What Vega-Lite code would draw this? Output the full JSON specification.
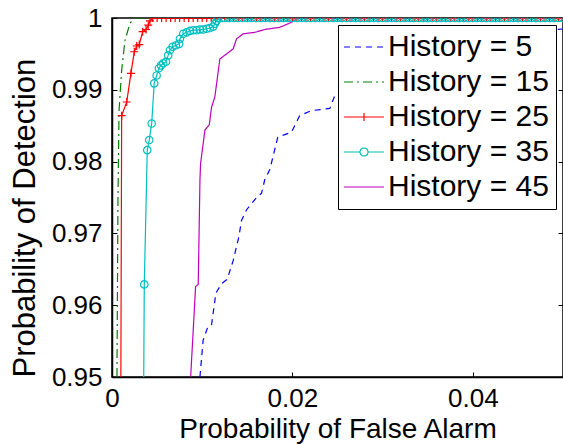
{
  "$schema": "https://vega.github.io/schema/vega-lite/v6.json",
  "width": 451,
  "height": 359,
  "autosize": {"type": "none"},
  "padding": {"left": 112, "top": 18, "right": 0, "bottom": 67},
  "background": "white",
  "config": {
    "font": "Liberation Sans",
    "view": {"stroke": "black", "strokeWidth": 1.5},
    "axis": {
      "domainColor": "black", "domainWidth": 1.5, "tickColor": "black", "tickWidth": 1,
      "labelColor": "black", "titleColor": "black", "grid": false,
      "labelFont": "Liberation Sans", "titleFont": "Liberation Sans", "titleFontWeight": "normal"
    }
  },
  "datasets": {
    "roc": [
      {"h":5,"x":0.00975,"y":0.95},{"h":5,"x":0.0101,"y":0.9551},{"h":5,"x":0.01063,"y":0.957},{"h":5,"x":0.01104,"y":0.9573},{"h":5,"x":0.01152,"y":0.9617},{"h":5,"x":0.01215,"y":0.963},{"h":5,"x":0.01277,"y":0.9636},{"h":5,"x":0.01343,"y":0.9662},{"h":5,"x":0.01406,"y":0.9695},{"h":5,"x":0.01436,"y":0.9718},{"h":5,"x":0.01492,"y":0.9733},{"h":5,"x":0.01603,"y":0.975},{"h":5,"x":0.01658,"y":0.9756},{"h":5,"x":0.01694,"y":0.9775},{"h":5,"x":0.0175,"y":0.9789},{"h":5,"x":0.01838,"y":0.9834},{"h":5,"x":0.0199,"y":0.9841},{"h":5,"x":0.0208,"y":0.9864},{"h":5,"x":0.0221,"y":0.9871},{"h":5,"x":0.02415,"y":0.9874},{"h":5,"x":0.0247,"y":0.9892},{"h":5,"x":0.027,"y":0.9905},{"h":5,"x":0.03,"y":0.9925},{"h":5,"x":0.034,"y":0.9945},{"h":5,"x":0.04,"y":0.997},{"h":5,"x":0.046,"y":0.9982},{"h":5,"x":0.0505,"y":0.9985},
      {"h":15,"x":0.00055,"y":0.95},{"h":15,"x":0.00066,"y":0.9746},{"h":15,"x":0.00078,"y":0.9871},{"h":15,"x":0.00107,"y":0.9927},{"h":15,"x":0.00144,"y":0.9969},{"h":15,"x":0.002,"y":0.9993},{"h":15,"x":0.0026,"y":1},{"h":15,"x":0.0505,"y":1},
      {"h":25,"x":0.00096,"y":0.94},{"h":25,"x":0.00107,"y":0.9864},{"h":25,"x":0.00163,"y":0.9883},{"h":25,"x":0.0021,"y":0.9923},{"h":25,"x":0.00247,"y":0.9953},{"h":25,"x":0.00274,"y":0.9961},{"h":25,"x":0.00302,"y":0.9963},{"h":25,"x":0.0034,"y":0.9981},{"h":25,"x":0.00377,"y":0.9984},{"h":25,"x":0.00402,"y":0.999},{"h":25,"x":0.00421,"y":0.9996},{"h":25,"x":0.00451,"y":1},
      {"h":25,"x":0.005,"y":1},{"h":25,"x":0.0055,"y":1},{"h":25,"x":0.006,"y":1},{"h":25,"x":0.0065,"y":1},{"h":25,"x":0.007,"y":1},{"h":25,"x":0.0075,"y":1},{"h":25,"x":0.008,"y":1},{"h":25,"x":0.0085,"y":1},{"h":25,"x":0.009,"y":1},{"h":25,"x":0.0095,"y":1},{"h":25,"x":0.01,"y":1},{"h":25,"x":0.0105,"y":1},{"h":25,"x":0.011,"y":1},{"h":25,"x":0.0115,"y":1},{"h":25,"x":0.012,"y":1},{"h":25,"x":0.0125,"y":1},{"h":25,"x":0.013,"y":1},{"h":25,"x":0.0135,"y":1},{"h":25,"x":0.014,"y":1},{"h":25,"x":0.0145,"y":1},{"h":25,"x":0.015,"y":1},{"h":25,"x":0.0155,"y":1},{"h":25,"x":0.016,"y":1},{"h":25,"x":0.0165,"y":1},{"h":25,"x":0.017,"y":1},{"h":25,"x":0.0175,"y":1},{"h":25,"x":0.018,"y":1},{"h":25,"x":0.0185,"y":1},{"h":25,"x":0.019,"y":1},{"h":25,"x":0.0195,"y":1},{"h":25,"x":0.02,"y":1},{"h":25,"x":0.0205,"y":1},{"h":25,"x":0.021,"y":1},{"h":25,"x":0.0215,"y":1},{"h":25,"x":0.022,"y":1},{"h":25,"x":0.0225,"y":1},{"h":25,"x":0.023,"y":1},{"h":25,"x":0.0235,"y":1},{"h":25,"x":0.024,"y":1},{"h":25,"x":0.0245,"y":1},{"h":25,"x":0.025,"y":1},{"h":25,"x":0.0255,"y":1},{"h":25,"x":0.026,"y":1},{"h":25,"x":0.0265,"y":1},{"h":25,"x":0.027,"y":1},{"h":25,"x":0.0275,"y":1},{"h":25,"x":0.028,"y":1},{"h":25,"x":0.0285,"y":1},{"h":25,"x":0.029,"y":1},{"h":25,"x":0.0295,"y":1},{"h":25,"x":0.03,"y":1},{"h":25,"x":0.0305,"y":1},{"h":25,"x":0.031,"y":1},{"h":25,"x":0.0315,"y":1},{"h":25,"x":0.032,"y":1},{"h":25,"x":0.0325,"y":1},{"h":25,"x":0.033,"y":1},{"h":25,"x":0.0335,"y":1},{"h":25,"x":0.034,"y":1},{"h":25,"x":0.0345,"y":1},{"h":25,"x":0.035,"y":1},{"h":25,"x":0.0355,"y":1},{"h":25,"x":0.036,"y":1},{"h":25,"x":0.0365,"y":1},{"h":25,"x":0.037,"y":1},{"h":25,"x":0.0375,"y":1},{"h":25,"x":0.038,"y":1},{"h":25,"x":0.0385,"y":1},{"h":25,"x":0.039,"y":1},{"h":25,"x":0.0395,"y":1},{"h":25,"x":0.04,"y":1},{"h":25,"x":0.0405,"y":1},{"h":25,"x":0.041,"y":1},{"h":25,"x":0.0415,"y":1},{"h":25,"x":0.042,"y":1},{"h":25,"x":0.0425,"y":1},{"h":25,"x":0.043,"y":1},{"h":25,"x":0.0435,"y":1},{"h":25,"x":0.044,"y":1},{"h":25,"x":0.0445,"y":1},{"h":25,"x":0.045,"y":1},{"h":25,"x":0.0455,"y":1},{"h":25,"x":0.046,"y":1},{"h":25,"x":0.0465,"y":1},{"h":25,"x":0.047,"y":1},{"h":25,"x":0.0475,"y":1},{"h":25,"x":0.048,"y":1},{"h":25,"x":0.0485,"y":1},{"h":25,"x":0.049,"y":1},{"h":25,"x":0.0495,"y":1},{"h":25,"x":0.05,"y":1},
      {"h":35,"x":0.00347,"y":0.94},{"h":35,"x":0.00358,"y":0.9629},{"h":35,"x":0.00391,"y":0.9816},{"h":35,"x":0.00413,"y":0.983},{"h":35,"x":0.0044,"y":0.9853},{"h":35,"x":0.00468,"y":0.9909},{"h":35,"x":0.00495,"y":0.992},{"h":35,"x":0.0052,"y":0.993},{"h":35,"x":0.00543,"y":0.9934},{"h":35,"x":0.00568,"y":0.9937},{"h":35,"x":0.00598,"y":0.9939},{"h":35,"x":0.00623,"y":0.9948},{"h":35,"x":0.00642,"y":0.9955},{"h":35,"x":0.00672,"y":0.996},{"h":35,"x":0.00709,"y":0.9962},{"h":35,"x":0.00745,"y":0.9964},{"h":35,"x":0.00753,"y":0.9971},{"h":35,"x":0.0079,"y":0.9978},{"h":35,"x":0.00827,"y":0.998},{"h":35,"x":0.00864,"y":0.9982},{"h":35,"x":0.009,"y":0.9983},{"h":35,"x":0.00938,"y":0.9983},{"h":35,"x":0.00975,"y":0.9984},{"h":35,"x":0.0101,"y":0.9984},{"h":35,"x":0.01049,"y":0.9985},{"h":35,"x":0.01085,"y":0.9986},{"h":35,"x":0.01122,"y":0.9988},{"h":35,"x":0.0114,"y":0.9992},{"h":35,"x":0.0116,"y":0.9996},{"h":35,"x":0.01177,"y":1},
      {"h":35,"x":0.0122,"y":1},{"h":35,"x":0.0125,"y":1},{"h":35,"x":0.013,"y":1},{"h":35,"x":0.0135,"y":1},{"h":35,"x":0.014,"y":1},{"h":35,"x":0.0145,"y":1},{"h":35,"x":0.015,"y":1},{"h":35,"x":0.0155,"y":1},{"h":35,"x":0.016,"y":1},{"h":35,"x":0.0165,"y":1},{"h":35,"x":0.017,"y":1},{"h":35,"x":0.0175,"y":1},{"h":35,"x":0.018,"y":1},{"h":35,"x":0.0185,"y":1},{"h":35,"x":0.019,"y":1},{"h":35,"x":0.0195,"y":1},{"h":35,"x":0.02,"y":1},{"h":35,"x":0.0205,"y":1},{"h":35,"x":0.021,"y":1},{"h":35,"x":0.0215,"y":1},{"h":35,"x":0.022,"y":1},{"h":35,"x":0.0225,"y":1},{"h":35,"x":0.023,"y":1},{"h":35,"x":0.0235,"y":1},{"h":35,"x":0.024,"y":1},{"h":35,"x":0.0245,"y":1},{"h":35,"x":0.025,"y":1},{"h":35,"x":0.0255,"y":1},{"h":35,"x":0.026,"y":1},{"h":35,"x":0.0265,"y":1},{"h":35,"x":0.027,"y":1},{"h":35,"x":0.0275,"y":1},{"h":35,"x":0.028,"y":1},{"h":35,"x":0.0285,"y":1},{"h":35,"x":0.029,"y":1},{"h":35,"x":0.0295,"y":1},{"h":35,"x":0.03,"y":1},{"h":35,"x":0.0305,"y":1},{"h":35,"x":0.031,"y":1},{"h":35,"x":0.0315,"y":1},{"h":35,"x":0.032,"y":1},{"h":35,"x":0.0325,"y":1},{"h":35,"x":0.033,"y":1},{"h":35,"x":0.0335,"y":1},{"h":35,"x":0.034,"y":1},{"h":35,"x":0.0345,"y":1},{"h":35,"x":0.035,"y":1},{"h":35,"x":0.0355,"y":1},{"h":35,"x":0.036,"y":1},{"h":35,"x":0.0365,"y":1},{"h":35,"x":0.037,"y":1},{"h":35,"x":0.0375,"y":1},{"h":35,"x":0.038,"y":1},{"h":35,"x":0.0385,"y":1},{"h":35,"x":0.039,"y":1},{"h":35,"x":0.0395,"y":1},{"h":35,"x":0.04,"y":1},{"h":35,"x":0.0405,"y":1},{"h":35,"x":0.041,"y":1},{"h":35,"x":0.0415,"y":1},{"h":35,"x":0.042,"y":1},{"h":35,"x":0.0425,"y":1},{"h":35,"x":0.043,"y":1},{"h":35,"x":0.0435,"y":1},{"h":35,"x":0.044,"y":1},{"h":35,"x":0.0445,"y":1},{"h":35,"x":0.045,"y":1},{"h":35,"x":0.0455,"y":1},{"h":35,"x":0.046,"y":1},{"h":35,"x":0.0465,"y":1},{"h":35,"x":0.047,"y":1},{"h":35,"x":0.0475,"y":1},{"h":35,"x":0.048,"y":1},{"h":35,"x":0.0485,"y":1},{"h":35,"x":0.049,"y":1},{"h":35,"x":0.0495,"y":1},{"h":35,"x":0.05,"y":1},
      {"h":45,"x":0.00872,"y":0.95},{"h":45,"x":0.00927,"y":0.9626},{"h":45,"x":0.00956,"y":0.9629},{"h":45,"x":0.00975,"y":0.9774},{"h":45,"x":0.00982,"y":0.9797},{"h":45,"x":0.0103,"y":0.9844},{"h":45,"x":0.01078,"y":0.9851},{"h":45,"x":0.01104,"y":0.9876},{"h":45,"x":0.0114,"y":0.989},{"h":45,"x":0.01196,"y":0.9943},{"h":45,"x":0.0127,"y":0.995},{"h":45,"x":0.01343,"y":0.9957},{"h":45,"x":0.01381,"y":0.9971},{"h":45,"x":0.01454,"y":0.9978},{"h":45,"x":0.01584,"y":0.998},{"h":45,"x":0.01694,"y":0.9984},{"h":45,"x":0.0186,"y":0.9987},{"h":45,"x":0.0199,"y":0.9994},{"h":45,"x":0.0206,"y":1},{"h":45,"x":0.0505,"y":1}
    ]
  },
  "data": {"name": "roc"},
  "encoding": {
    "x": {
      "field": "x", "type": "quantitative",
      "scale": {"domain": [0, 0.05], "nice": false, "zero": false},
      "axis": {
        "values": [0, 0.02, 0.04], "format": "~g", "labelFontSize": 26, "tickSize": -5,
        "labelPadding": 13, "labelFlush": false, "title": "Probability of False Alarm",
        "titleFontSize": 28, "titlePadding": 4
      }
    },
    "y": {
      "field": "y", "type": "quantitative",
      "scale": {"domain": [0.95, 1], "nice": false, "zero": false},
      "axis": {
        "orient": "left", "values": [0.95, 0.96, 0.97, 0.98, 0.99, 1], "format": "~g",
        "labelFontSize": 26, "tickSize": -5, "labelPadding": 15, "labelFlush": false,
        "title": "Probability of Detection", "titleFontSize": 31, "titlePadding": 10,
        "titleAnchor": "start"
      }
    }
  },
  "layer": [
    {
      "mark": {"type": "line", "clip": true, "strokeWidth": 1.2},
      "encoding": {
        "color": {
          "field": "h", "type": "nominal",
          "scale": {"domain": [5, 15, 25, 35, 45], "range": ["#0000ff", "#008000", "#ff0000", "#00bfbf", "#bf00bf"]},
          "legend": {
            "title": null, "orient": "top-right", "offset": 7,
            "strokeColor": "black", "fillColor": "white", "padding": 7,
            "labelFontSize": 30, "labelFont": "Liberation Sans", "labelColor": "black",
            "labelLimit": 400, "labelExpr": "'History = ' + datum.label",
            "symbolSize": 400, "symbolStrokeWidth": 1.2, "symbolOffset": 4, "labelOffset": 9,
            "rowPadding": 5, "symbolFillColor": "transparent",
            "encode": {"symbols": {"update": {
              "shape": {"signal": "datum.value == 25 ? 'M-2,0H2M0,-0.4V0.4' : datum.value == 35 ? 'M-2,0H-0.4A0.4,0.4 0 1,1 0.4,0H2M0.4,0A0.4,0.4 0 1,1 -0.4,0' : 'M-2,0H2'"},
              "fill": {"value": "transparent"}
            }}}
          }
        },
        "strokeDash": {
          "field": "h", "type": "nominal",
          "scale": {"domain": [5, 15, 25, 35, 45], "range": [[6, 5], [9, 4, 2, 4], [1, 0], [1, 0], [1, 0]]},
          "legend": {
            "title": null, "orient": "top-right", "offset": 7,
            "strokeColor": "black", "fillColor": "white", "padding": 7,
            "labelFontSize": 30, "labelFont": "Liberation Sans", "labelColor": "black",
            "labelLimit": 400, "labelExpr": "'History = ' + datum.label",
            "symbolSize": 400, "symbolStrokeWidth": 1.2, "symbolOffset": 4, "labelOffset": 9,
            "rowPadding": 5, "symbolFillColor": "transparent",
            "encode": {"symbols": {"update": {
              "shape": {"signal": "datum.value == 25 ? 'M-2,0H2M0,-0.4V0.4' : datum.value == 35 ? 'M-2,0H-0.4A0.4,0.4 0 1,1 0.4,0H2M0.4,0A0.4,0.4 0 1,1 -0.4,0' : 'M-2,0H2'"},
              "fill": {"value": "transparent"}
            }}}
          }
        }
      }
    },
    {
      "transform": [{"filter": "datum.h == 25"}],
      "mark": {"type": "point", "shape": "M-1,0H1M0,-1V1", "size": 64, "filled": false, "color": "#ff0000", "strokeWidth": 1.2, "clip": true, "opacity": 1},
      "encoding": {
        "y": {"field": "y", "type": "quantitative", "axis": null}
      }
    },
    {
      "transform": [{"filter": "datum.h == 35"}],
      "mark": {"type": "point", "shape": "circle", "size": 55, "filled": false, "color": "#00bfbf", "strokeWidth": 1.2, "clip": true, "opacity": 1},
      "encoding": {
        "y": {
          "field": "y", "type": "quantitative",
          "axis": {"orient": "right", "values": [0.95, 0.96, 0.97, 0.98, 0.99, 1], "labels": false, "title": null, "domain": false, "tickSize": -5}
        }
      }
    }
  ],
  "resolve": {"axis": {"y": "independent"}}
}
